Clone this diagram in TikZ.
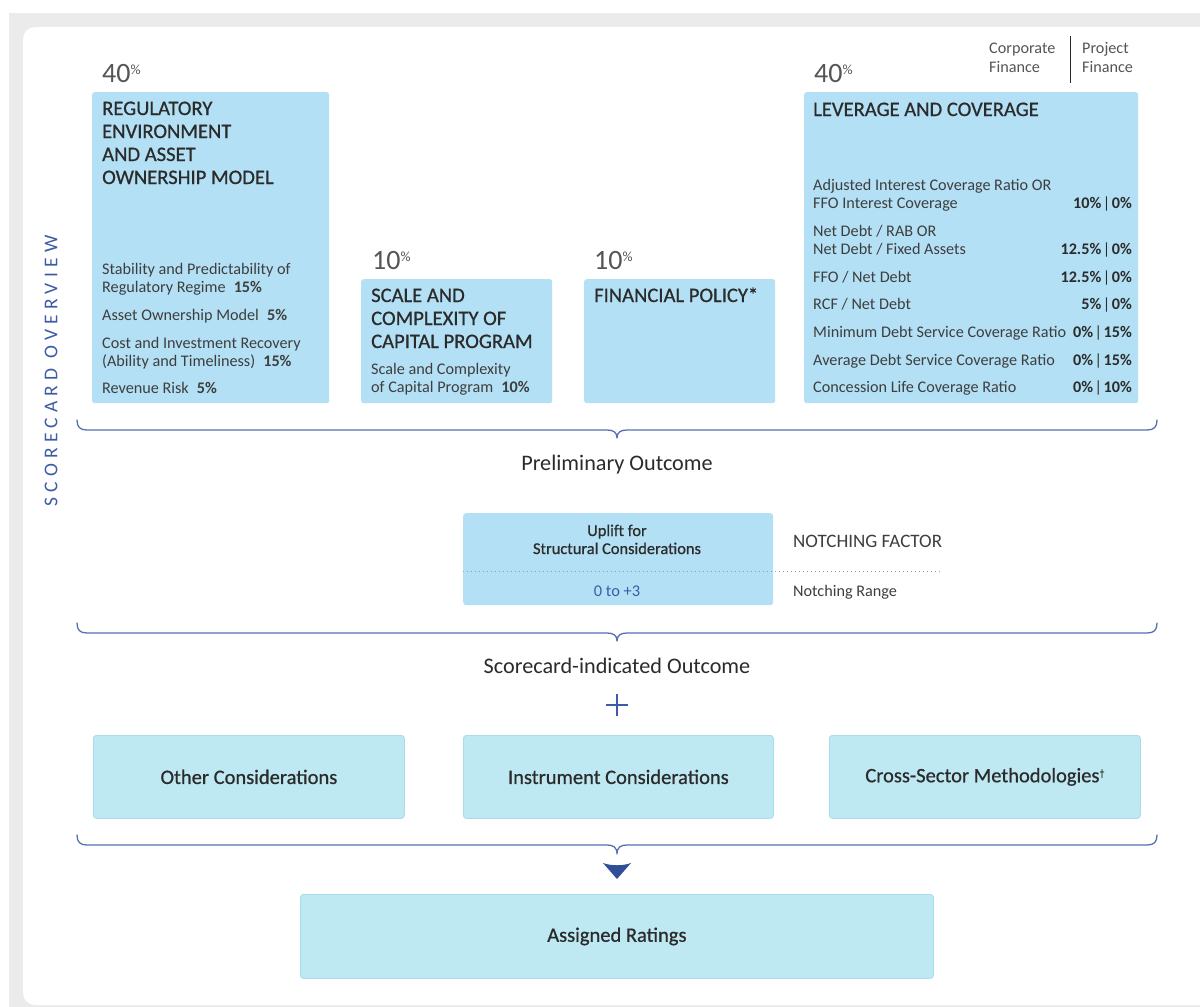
\documentclass[tikz,border=0pt]{standalone}
\usepackage{fontspec}
\setmainfont{Carlito}
\newfontfamily\medfont[FakeBold=0.7]{Carlito}
\newfontfamily\spacedfont[LetterSpace=27]{Carlito}

\definecolor{framegray}{HTML}{EBEBEB}
\definecolor{boxblue}{HTML}{B3E0F5}
\definecolor{lowblue}{HTML}{BEE8F2}
\definecolor{lowedge}{HTML}{A9DCEA}
\definecolor{accent}{HTML}{3D5CA8}
\definecolor{bracecol}{HTML}{5670B2}
\definecolor{arrowcol}{HTML}{2F4E96}
\definecolor{txtdark}{HTML}{2B2B2B}
\definecolor{txtbody}{HTML}{3E3E3E}
\definecolor{pctgray}{HTML}{555555}

\newcommand{\pct}[1]{#1\raisebox{8pt}{\fontsize{14}{14}\selectfont\%}}
\newcommand{\split}[2]{\textbf{#1}\kern1.5pt|\kern1.5pt\textbf{#2}}

\begin{document}
\begin{tikzpicture}[x=1pt,y=-1pt,
  topbox/.style={fill=boxblue, rounded corners=2.5pt, inner sep=0pt, anchor=north west},
  lowbox/.style={fill=lowblue, draw=lowedge, line width=0.8pt, rounded corners=3pt,
    inner sep=0pt, anchor=north west},
  head/.style={font=\medfont\fontsize{20.6}{24}\selectfont, text=txtdark, inner sep=0pt, anchor=base west},
  body/.style={font=\fontsize{16.2}{19}\selectfont, text=txtbody, inner sep=0pt, anchor=base west},
  num/.style={font=\fontsize{16.2}{19}\selectfont, text=txtdark, inner sep=0pt, anchor=base east},
  weight/.style={font=\fontsize{28}{28}\selectfont, text=pctgray, inner sep=0pt, anchor=base west},
  outcome/.style={font=\fontsize{22.2}{25}\selectfont, text=txtdark, inner sep=0pt, anchor=base},
  boxlabel/.style={font=\medfont\fontsize{20.5}{24}\selectfont, text=txtdark},
  brace/.style={draw=bracecol, line width=1.3pt, line cap=round, line join=round}
]
\useasboundingbox (0,0) rectangle (1200,1007);

% background frame and panel
\fill[white] (0,0) rectangle (1200,1007);
\fill[framegray] (9,13) rectangle (1200,1007);
\fill[white, rounded corners=12pt] (23,27) rectangle (1212,1005);

% side title
\node[rotate=90, font=\spacedfont\fontsize{19.5}{19.5}\selectfont, text=accent, inner sep=0pt]
  (side) at (51,371) {SCORECARD OVERVIEW};

% ---------- factor boxes ----------
\node[topbox, minimum width=237pt, minimum height=311pt] (reg) at (92,92) {};
\node[topbox, minimum width=191pt, minimum height=124pt] (scale) at (361,279) {};
\node[topbox, minimum width=191pt, minimum height=124pt] (fin) at (584,279) {};
\node[topbox, minimum width=334pt, minimum height=311pt] (lev) at (804,92) {};

% weights
\node[weight] (wreg) at (102,82) {\pct{40}};
\node[weight] (wscale) at (372,269) {\pct{10}};
\node[weight] (wfin) at (594,269) {\pct{10}};
\node[weight] (wlev) at (814,82) {\pct{40}};

% column heads
\node[body, text=pctgray] (cf1) at (989,53) {Corporate};
\node[body, text=pctgray] (cf2) at (989,72) {Finance};
\node[body, text=pctgray] (pf1) at (1082,53) {Project};
\node[body, text=pctgray] (pf2) at (1082,72) {Finance};
\coordinate (sepT) at (1070,36);
\coordinate (sepB) at (1070,83);
\draw[line width=1pt, txtdark] (sepT) -- (sepB);

% regulatory environment
\node[head] (r1) at (102,115) {REGULATORY};
\node[head] (r2) at (102,138) {ENVIRONMENT};
\node[head] (r3) at (102,161) {AND ASSET};
\node[head] (r4) at (102,184) {OWNERSHIP MODEL};
\node[body] (ra) at (102,274) {Stability and Predictability of};
\node[body] (rb) at (102,292) {Regulatory Regime\enspace\textbf{15\%}};
\node[body] (rc) at (102,320) {Asset Ownership Model\enspace\textbf{5\%}};
\node[body] (rd) at (102,348) {Cost and Investment Recovery};
\node[body] (re) at (102,366) {(Ability and Timeliness)\enspace\textbf{15\%}};
\node[body] (rf) at (102,393) {Revenue Risk\enspace\textbf{5\%}};

% scale and complexity
\node[head] (s1) at (371,302) {SCALE AND};
\node[head] (s2) at (371,325) {COMPLEXITY OF};
\node[head] (s3) at (371,348) {CAPITAL PROGRAM};
\node[body] (sa) at (371,374) {Scale and Complexity};
\node[body] (sb) at (371,392) {of Capital Program\enspace\textbf{10\%}};

% financial policy
\node[head] (f1) at (594,302) {FINANCIAL POLICY*};

% leverage and coverage
\node[head] (l1) at (813,116) {LEVERAGE AND COVERAGE};
\node[body] (la1) at (813,190) {Adjusted Interest Coverage Ratio OR};
\node[body] (la2) at (813,208) {FFO Interest Coverage};
\node[num]  (na)  at (1132,208) {\split{10\%}{0\%}};
\node[body] (lb1) at (813,236) {Net Debt / RAB OR};
\node[body] (lb2) at (813,254) {Net Debt / Fixed Assets};
\node[num]  (nb)  at (1132,254) {\split{12.5\%}{0\%}};
\node[body] (lc)  at (813,282) {FFO / Net Debt};
\node[num]  (nc)  at (1132,282) {\split{12.5\%}{0\%}};
\node[body] (ld)  at (813,309) {RCF / Net Debt};
\node[num]  (nd)  at (1132,309) {\split{5\%}{0\%}};
\node[body] (le)  at (813,337) {Minimum Debt Service Coverage Ratio};
\node[num]  (ne)  at (1132,337) {\split{0\%}{15\%}};
\node[body] (lf)  at (813,365) {Average Debt Service Coverage Ratio};
\node[num]  (nf)  at (1132,365) {\split{0\%}{15\%}};
\node[body] (lg)  at (813,392) {Concession Life Coverage Ratio};
\node[num]  (ng)  at (1132,392) {\split{0\%}{10\%}};

% ---------- brace 1 ----------
\coordinate (b1L) at (77,420);
\coordinate (b1T) at (617,438);
\coordinate (b1R) at (1157,420);
\draw[brace] (b1L) .. controls (77,427) and (80,430) .. (87,430) -- (607,430)
  .. controls (613,430) and (617,432) .. (b1T)
  .. controls (617,432) and (621,430) .. (627,430) -- (1147,430)
  .. controls (1154,430) and (1157,427) .. (b1R);
\node[outcome] (prelim) at (617,470) {Preliminary Outcome};

% ---------- notching ----------
\node[topbox, minimum width=310pt, minimum height=92pt, rounded corners=3pt] (uplift) at (463,513) {};
\node[font=\medfont\fontsize{16.4}{19}\selectfont, text=txtdark, inner sep=0pt, anchor=base] (up1) at (617,536) {Uplift for};
\node[font=\medfont\fontsize{16.4}{19}\selectfont, text=txtdark, inner sep=0pt, anchor=base] (up2) at (617,554) {Structural Considerations};
\node[font=\fontsize{16.4}{19}\selectfont, text=accent, inner sep=0pt, anchor=base] (range) at (617,596) {0 to +3};
\node[font=\fontsize{19}{20}\selectfont, text=txtbody, inner sep=0pt, anchor=base west] (nfac) at (793,547) {NOTCHING FACTOR};
\node[body] (nr) at (793,596) {Notching Range};
\coordinate (dotL) at (463,571);
\coordinate (dotR) at (943,571);
\draw[gray!75, line width=1pt, dash pattern=on 1pt off 3pt] (dotL) -- (dotR);

% ---------- brace 2 ----------
\coordinate (b2L) at (77,623);
\coordinate (b2T) at (617,641);
\coordinate (b2R) at (1157,623);
\draw[brace] (b2L) .. controls (77,630) and (80,633) .. (87,633) -- (607,633)
  .. controls (613,633) and (617,635) .. (b2T)
  .. controls (617,635) and (621,633) .. (627,633) -- (1147,633)
  .. controls (1154,633) and (1157,630) .. (b2R);
\node[outcome] (score) at (617,673) {Scorecard-indicated Outcome};

% plus sign
\coordinate (plus) at (617,705);
\draw[accent, line width=2pt] ([yshift=-11pt]plus) -- ([yshift=11pt]plus)
  ([xshift=-11pt]plus) -- ([xshift=11pt]plus);

% ---------- other considerations ----------
\node[lowbox, minimum width=311pt, minimum height=83pt] (other) at (93,735) {};
\node[lowbox, minimum width=310pt, minimum height=83pt] (instr) at (463,735) {};
\node[lowbox, minimum width=311pt, minimum height=83pt] (cross) at (829,735) {};
\node[boxlabel] at (other.center) {Other Considerations};
\node[boxlabel] at (instr.center) {Instrument Considerations};
\node[boxlabel] at (cross.center) {Cross-Sector Methodologies\raisebox{6pt}{\fontsize{10}{10}\selectfont †}};

% ---------- brace 3 ----------
\coordinate (b3L) at (77,835);
\coordinate (b3T) at (617,854);
\coordinate (b3R) at (1157,835);
\draw[brace] (b3L) .. controls (77,842) and (80,845) .. (87,845) -- (607,845)
  .. controls (613,845) and (617,847) .. (b3T)
  .. controls (617,847) and (621,845) .. (627,845) -- (1147,845)
  .. controls (1154,845) and (1157,842) .. (b3R);

% arrow head to the final box
\coordinate (tip) at (617,879);
\fill[arrowcol] (603,863) -- (tip) -- (631,863) .. controls (623,866) and (611,866) .. cycle;

% ---------- assigned ratings ----------
\node[lowbox, minimum width=633pt, minimum height=84pt] (assigned) at (300,894) {};
\node[boxlabel] at (assigned.center) {Assigned Ratings};

\end{tikzpicture}
\end{document}
